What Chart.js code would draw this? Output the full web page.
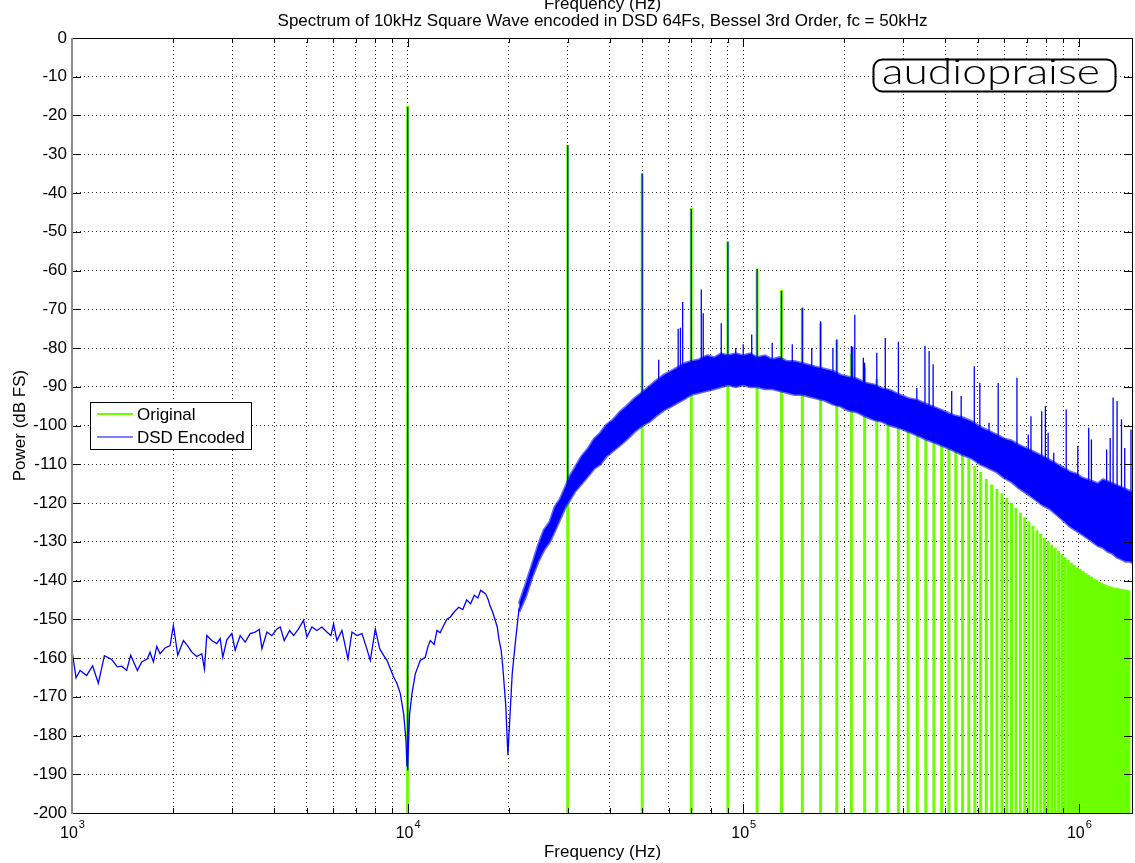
<!DOCTYPE html>
<html>
<head>
<meta charset="utf-8">
<script src="https://cdn.jsdelivr.net/npm/chart.js@4.4.1/dist/chart.umd.min.js"></script>
<style>
html, body { margin: 0; padding: 0; background: #fff; }
#Wrap { width: 1135px; height: 863px; position: relative; }
</style>
</head>
<body>
<div id="Wrap"><canvas id="Spectrum_Chart"></canvas></div>
<script>
// odd harmonics of the 10 kHz square wave (Hz) and their level in the original signal (dB FS)
const Harmonic_Freqs = [
    10000, 30000, 50000, 70000, 90000, 110000, 130000, 150000, 170000, 190000,
    210000, 230000, 250000, 270000, 290000, 310000, 330000, 350000, 370000, 390000,
    410000, 430000, 450000, 470000, 490000, 510000, 530000, 550000, 570000, 590000,
    610000, 630000, 650000, 670000, 690000, 710000, 730000, 750000, 770000, 790000,
    810000, 830000, 850000, 870000, 890000, 910000, 930000, 950000, 970000, 990000,
    1010000, 1030000, 1050000, 1070000, 1090000, 1110000, 1130000, 1150000, 1170000, 1190000,
    1210000, 1230000, 1250000, 1270000, 1290000, 1310000, 1330000, 1350000, 1370000, 1390000,
    1410000
];
const Original_Peaks_Db = [
    -17.5, -27.6, -35, -43.8, -52.5, -59.5, -65, -69.5, -73.5, -78,
    -81.5, -85, -88, -90.5, -92.5, -94.5, -96.5, -98.4, -100.2, -101.9,
    -103.6, -105.3, -107, -108.6, -110.5, -112, -113.8, -115.2, -116.4, -117.5,
    -118.7, -120, -121.3, -122.5, -123.7, -124.8, -125.9, -127, -128, -129,
    -129.9, -130.8, -131.6, -132.4, -133.2, -134, -134.7, -135.4, -136, -136.6,
    -137.1, -137.6, -138.1, -138.6, -139, -139.5, -139.9, -140.3, -140.6, -140.9,
    -141.2, -141.4, -141.6, -141.8, -141.9, -142, -142.1, -142.2, -142.3, -142.4,
    -142.5
];

// DSD encoded trace, low part (thin line up to ~21 kHz)
const Blue_Low_Freqs = [
    1000, 1005, 1028, 1057, 1106, 1152, 1198, 1249, 1313, 1365, 1406, 1455, 1496, 1566, 1614,
    1677, 1708, 1748, 1789, 1830, 1894, 1960, 2005, 2066, 2148, 2208, 2275, 2354, 2436, 2481,
    2521, 2609, 2700, 2763, 2814, 2893, 2994, 3063, 3170, 3281, 3395, 3514, 3613, 3680, 3808,
    3941, 4079, 4173, 4289, 4450, 4574, 4732, 4897, 5011, 5186, 5366, 5554, 5747, 5907, 6017,
    6156, 6372, 6640, 6826, 7063, 7310, 7531, 7742, 8012, 8253, 8484, 8681, 8881, 9087, 9297,
    9511, 9732, 9888, 9955, 9990, 10000, 10010, 10060, 10139, 10304, 10541, 10910, 11289, 11500, 11686,
    12000, 12233, 12500, 12806, 13100, 13406, 13800, 14196, 14600, 15000, 15400, 15800, 16200, 16500, 16800,
    17100, 17400, 17600, 17900, 18200, 18500, 18700, 19000, 19200, 19600, 19900, 20150, 20500, 21000, 21500
];
const Blue_Low_Db = [
    -158, -158, -165.1, -163.2, -164.5, -162, -166.5, -159.4, -160.4, -162.3, -162.1, -163.2, -159.3, -163.2, -161,
    -160.2, -158.5, -161, -157, -158.9, -157.4, -156.8, -151.6, -159.3, -155.5, -156.8, -158.5, -159.6, -158.9, -162.8,
    -154.2, -155.5, -156.3, -155, -159.8, -155.3, -153.7, -158, -154.2, -155.9, -153.7, -153.3, -152.6, -157.6, -153.3,
    -154.2, -152.5, -152, -155.5, -152.9, -154.2, -152.5, -150.3, -154.6, -152, -152.9, -152, -153.3, -154.2, -151.2,
    -155.5, -152.9, -160.2, -153.3, -154.2, -153.7, -157.2, -160.6, -152.5, -157.6, -159.3, -160.6, -162.8, -164.9, -166.6,
    -169.2, -174.4, -181.2, -188, -186, -17.8, -189, -182, -174.4, -169.2, -164.1, -160.6, -159.8, -157, -155.5,
    -156.5, -152.9, -153.5, -151.6, -150, -149.4, -148, -146.9, -147.5, -145, -146, -143.8, -144.5, -142.5, -143,
    -143.5, -145, -146.5, -148, -150, -152, -155, -158, -162, -172, -185, -176, -164, -155, -147
];

// DSD encoded noise band (upper / lower edge)
const Band_Freqs = [
    21500, 22500, 23500, 24500, 25500, 26500, 27500, 28500, 29500, 30500, 31500, 33000, 34500, 36000, 37500,
    39000, 41000, 43000, 45000, 47500, 50000, 52500, 55000, 58000, 61000, 64000, 67000, 70000, 74000, 78000,
    82000, 86000, 90000, 95000, 100000, 105000, 110000, 116000, 122000, 128000, 135000, 142000, 150000, 158000, 166000,
    175000, 185000, 195000, 205000, 218000, 230000, 245000, 260000, 275000, 290000, 310000, 330000, 350000, 375000, 400000,
    425000, 450000, 480000, 510000, 540000, 570000, 600000, 630000, 660000, 700000, 740000, 780000, 820000, 860000, 900000,
    940000, 980000, 1020000, 1060000, 1100000, 1140000, 1180000, 1220000, 1260000, 1300000, 1340000, 1380000, 1420000, 1450000
];
const Band_Upper_Db = [
    -146, -141, -136, -131, -127, -125, -121, -119, -116, -113, -111, -108, -106, -103.5, -102,
    -100, -98.5, -96.5, -95, -93, -91.5, -90, -88.5, -87, -86, -85, -84, -83.5, -83, -82,
    -82.5, -81.5, -82, -81.5, -82, -81.5, -82.5, -82, -83, -82.5, -83.5, -83.5, -84, -84.5, -85,
    -85.5, -86, -87, -87.5, -88, -89, -89.5, -90.5, -91, -92, -93, -93.5, -94.5, -95.5, -96.5,
    -97.5, -98, -99, -100.5, -101.5, -102.5, -103.5, -104, -105, -106, -107, -108, -109, -110, -111,
    -112, -112.5, -113.5, -114, -114.5, -115, -114, -114.5, -115, -115.5, -116, -116.5, -117, -117.5
];
const Band_Lower_Db = [
    -148, -144, -139, -135, -132, -130, -127, -124, -121, -119, -117, -115, -113, -111, -110,
    -108, -106.5, -105, -103.5, -101.5, -100, -99, -97.5, -96, -95, -94, -93, -92, -91.5, -91,
    -90.5, -90, -89.5, -90, -89.5, -90, -90, -90.5, -90.5, -91, -91.5, -92, -92, -92.5, -93,
    -93.5, -94.5, -95, -96, -96.5, -97.5, -98.5, -99, -100, -100.5, -101.5, -102.5, -103.5, -104.5, -105.5,
    -106.5, -107.5, -108.5, -110, -111, -112, -113.5, -114.5, -116, -117.5, -119, -120.5, -121.5, -123, -124.5,
    -126, -127, -128, -129, -130, -131, -131.5, -132.5, -133, -134, -134.5, -135, -135, -135.5
];

// DSD encoded spikes above the noise band
const Spike_Freqs = [
    30000, 50000, 56000, 64000, 65000, 66000, 70000, 75000, 76000, 86000, 90000, 95000, 100000, 106000, 110000,
    122000, 130000, 140000, 150000, 160000, 170000, 185000, 190000, 210000, 212000, 215000, 228000, 230000, 250000, 265000,
    290000, 329000, 348000, 358000, 368000, 418000, 446000, 488000, 507000, 540000, 575000, 654000, 707000, 720000, 775000,
    795000, 810000, 842000, 917000, 993000, 1070000, 1090000, 1210000, 1240000, 1265000, 1300000, 1340000, 1370000, 1430000
];
const Spike_Tops_Db = [
    -27.7, -34.9, -83, -75, -74.8, -68.1, -44.1, -64.9, -71, -73.6, -52.6, -80, -79, -76.5, -59.6,
    -78.7, -65.3, -79, -69.7, -80, -73.1, -80, -77.8, -79.5, -79.7, -71.4, -82.5, -83.8, -81.2, -77.4,
    -78.4, -90.3, -79.5, -80.8, -84.2, -91.1, -92.4, -84.7, -89, -99.3, -89, -87.7, -102.3, -97.6, -96.3,
    -95, -101.9, -107, -95.9, -105.3, -100.6, -103.6, -106.2, -103.2, -92.8, -93.7, -98.4, -105.8, -101
];
const Spike_Bases_Db = [
    -116, -98, -96, -93, -92, -92, -90, -89, -89, -88, -88, -88, -88, -88, -88,
    -88, -89, -90, -90, -91, -91, -92, -92, -94, -94, -94, -95, -95, -96, -97,
    -98, -100, -101, -101, -102, -104, -105, -106, -107, -108, -109, -112, -114, -114, -116,
    -117, -117, -118, -120, -122, -124, -125, -127, -127, -127, -128, -128, -129, -130
];

const Y_Min = -200, Y_Max = 0, Y_Step = 10;
const X_Min = 1000, X_Max = 1450000;
const Decades = [1e3, 1e4, 1e5, 1e6];
const Grid_Steps = [1, 2, 3, 4, 5, 6, 7, 8, 9];
const X_Grid_Freqs = [];
Decades.forEach(D => Grid_Steps.forEach(S => { if (D * S <= X_Max) X_Grid_Freqs.push(D * S); }));

const Green = "#6cff00";
const Blue = "#0000ff";
const Font_Name = '"Liberation Sans", Arial, Helvetica, sans-serif';
const Text_Size = 17;

function Zip_Points(Xs, Ys) {
    return Xs.map((X, I) => ({ x: X, y: Ys[I] }));
}

function Build_Stems(Freqs, Tops, Bases) {
    const Out = [];
    Freqs.forEach((F, I) => {
        const Base = Array.isArray(Bases) ? Bases[I] : Bases;
        Out.push({ x: F, y: Base }, { x: F, y: Tops[I] }, { x: F, y: null });
    });
    return Out;
}

const Axes_Plugin = {
    id: "matlab_axes",
    afterDraw(chart) {
        const { ctx, chartArea: A, scales } = chart;
        const Xs = scales.x, Ys = scales.y;
        ctx.save();

        // tick marks (inside)
        ctx.strokeStyle = "#000";
        ctx.lineWidth = 1;
        ctx.beginPath();
        X_Grid_Freqs.forEach(F => {
            const Px = Math.round(Xs.getPixelForValue(F)) + 0.5;
            const Len = Decades.includes(F) ? 9 : 5;
            ctx.moveTo(Px, A.bottom); ctx.lineTo(Px, A.bottom - Len);
            ctx.moveTo(Px, A.top); ctx.lineTo(Px, A.top + Len);
        });
        for (let V = Y_Min; V <= Y_Max; V += Y_Step) {
            const Py = Math.round(Ys.getPixelForValue(V)) + 0.5;
            ctx.moveTo(A.left, Py); ctx.lineTo(A.left + 9, Py);
            ctx.moveTo(A.right, Py); ctx.lineTo(A.right - 9, Py);
        }
        ctx.stroke();

        // box
        ctx.beginPath();
        ctx.moveTo(A.left, Math.round(A.top) + 0.5); ctx.lineTo(A.right, Math.round(A.top) + 0.5);
        ctx.moveTo(A.left, Math.round(A.bottom) + 0.5); ctx.lineTo(A.right, Math.round(A.bottom) + 0.5);
        ctx.moveTo(Math.round(A.right) - 0.5, A.top); ctx.lineTo(Math.round(A.right) - 0.5, A.bottom);
        ctx.stroke();
        ctx.strokeStyle = "#8c8c8c";
        ctx.lineWidth = 2;
        ctx.beginPath();
        ctx.moveTo(A.left, A.top); ctx.lineTo(A.left, A.bottom + 1);
        ctx.stroke();

        // x tick labels 10^n
        ctx.fillStyle = "#000";
        ctx.textBaseline = "alphabetic";
        Decades.forEach((D, I) => {
            const Px = Xs.getPixelForValue(D);
            const Exp = String(3 + I);
            ctx.font = "16px " + Font_Name;
            const W1 = ctx.measureText("10").width;
            ctx.font = "11px " + Font_Name;
            const W2 = ctx.measureText(Exp).width;
            const X0 = Px - (W1 + W2) / 2;
            ctx.font = "16px " + Font_Name;
            ctx.textAlign = "left";
            ctx.fillText("10", X0, A.bottom + 25);
            ctx.font = "11px " + Font_Name;
            ctx.fillText(Exp, X0 + W1 + 1, A.bottom + 15);
        });

        // titles
        ctx.textAlign = "center";
        ctx.font = Text_Size + "px " + Font_Name;
        const Cx = (A.left + A.right) / 2;
        ctx.fillText("Frequency (Hz)", Cx, 9);
        ctx.fillText("Spectrum of 10kHz Square Wave encoded in DSD 64Fs, Bessel 3rd Order, fc = 50kHz", Cx, 26);
        ctx.fillText("Frequency (Hz)", Cx, 857);
        ctx.save();
        ctx.translate(25, (A.top + A.bottom) / 2);
        ctx.rotate(-Math.PI / 2);
        ctx.fillText("Power (dB FS)", 0, 0);
        ctx.restore();

        // legend
        const Lx = 90.5, Ly = 402.5, Lw = 161, Lh = 47;
        ctx.fillStyle = "#fff";
        ctx.fillRect(Lx, Ly, Lw, Lh);
        ctx.strokeStyle = "#000";
        ctx.lineWidth = 1;
        ctx.strokeRect(Lx, Ly, Lw, Lh);
        ctx.lineWidth = 2;
        ctx.strokeStyle = Green;
        ctx.beginPath(); ctx.moveTo(97, 414); ctx.lineTo(133, 414); ctx.stroke();
        ctx.lineWidth = 1.2;
        ctx.strokeStyle = Blue;
        ctx.beginPath(); ctx.moveTo(97, 437); ctx.lineTo(133, 437); ctx.stroke();
        ctx.fillStyle = "#000";
        ctx.textAlign = "left";
        ctx.font = Text_Size + "px " + Font_Name;
        ctx.fillText("Original", 137, 420);
        ctx.fillText("DSD Encoded", 137, 443);

        // logo
        ctx.fillStyle = "#fff";
        ctx.strokeStyle = "#000";
        ctx.lineWidth = 2;
        ctx.beginPath();
        ctx.roundRect(873.5, 59.5, 242, 32, 9);
        ctx.fill();
        ctx.stroke();
        ctx.font = '300 36px Lato, "Open Sans", sans-serif';
        const Logo_W = ctx.measureText("audiopraise").width;
        ctx.save();
        ctx.translate(882, 84);
        ctx.scale(218 / Logo_W, 1);
        ctx.fillStyle = "#000";
        ctx.fillText("audiopraise", 0, 0);
        ctx.restore();

        ctx.restore();
    }
};

const Chart_Config = {
    type: "scatter",
    data: {
        datasets: [
            {
                label: "DSD Spikes",
                data: Build_Stems(Spike_Freqs, Spike_Tops_Db, Spike_Bases_Db),
                showLine: true, spanGaps: false, borderColor: Blue, borderWidth: 1.3,
                pointRadius: 0, order: 1
            },
            {
                label: "DSD Encoded",
                data: Zip_Points(Blue_Low_Freqs, Blue_Low_Db),
                showLine: true, borderColor: Blue, borderWidth: 1.3,
                pointRadius: 0, order: 2
            },
            {
                label: "DSD Band Upper",
                data: Zip_Points(Band_Freqs, Band_Upper_Db),
                showLine: true, borderColor: "rgba(0,0,255,0.6)", borderWidth: 3, backgroundColor: Blue,
                fill: "+1", pointRadius: 0, order: 3
            },
            {
                label: "DSD Band Lower",
                data: Zip_Points(Band_Freqs, Band_Lower_Db),
                showLine: true, borderColor: "rgba(0,0,255,0.6)", borderWidth: 3,
                pointRadius: 0, order: 4
            },
            {
                label: "Original",
                data: Build_Stems(Harmonic_Freqs, Original_Peaks_Db, Y_Min),
                showLine: true, spanGaps: false, borderColor: Green, borderWidth: 3,
                pointRadius: 0, order: 5
            }
        ]
    },
    options: {
        responsive: true,
        maintainAspectRatio: false,
        animation: false,
        devicePixelRatio: 1,
        layout: { padding: { top: 38, right: 2, left: 0, bottom: 0 } },
        plugins: {
            legend: { display: false },
            tooltip: { enabled: false },
            title: { display: false }
        },
        scales: {
            x: {
                type: "logarithmic",
                min: X_Min,
                max: X_Max,
                z: 1,
                afterBuildTicks: function (Scale) {
                    Scale.ticks = X_Grid_Freqs.map(V => ({ value: V }));
                },
                afterFit: function (Scale) { Scale.height = 50; },
                ticks: { display: false },
                grid: { color: "#333", lineWidth: 1, drawTicks: false },
                border: { display: false, dash: [1, 3] }
            },
            y: {
                min: Y_Min,
                max: Y_Max,
                z: 1,
                afterFit: function (Scale) { Scale.width = 72; },
                ticks: {
                    stepSize: Y_Step,
                    autoSkip: false,
                    color: "#000",
                    padding: 5,
                    font: { family: Font_Name, size: Text_Size },
                    callback: function (V) { return String(V); }
                },
                grid: { color: "#333", lineWidth: 1, drawTicks: false },
                border: { display: false, dash: [1, 3] }
            }
        }
    },
    plugins: [Axes_Plugin]
};

const Spectrum_Chart = new Chart(document.getElementById("Spectrum_Chart"), Chart_Config);
</script>
</body>
</html>
